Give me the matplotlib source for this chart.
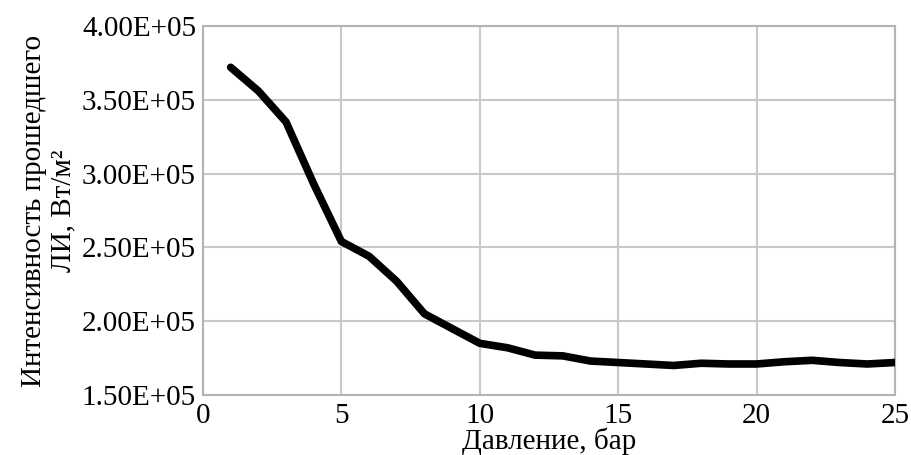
import numpy as np
import matplotlib
matplotlib.use("Agg")
import matplotlib.pyplot as plt

# Data
pressure = [1, 2, 3, 4, 5, 6, 7, 8, 9, 10, 11, 12, 13,
            14, 15, 16, 17, 18, 19, 20, 21, 22, 23, 24, 25]
intensity = [3.72e5, 3.56e5, 3.35e5, 2.93e5, 2.54e5, 2.44e5, 2.27e5, 2.05e5,
             1.95e5, 1.85e5, 1.82e5, 1.77e5, 1.765e5, 1.73e5, 1.72e5, 1.71e5,
             1.70e5, 1.715e5, 1.71e5, 1.71e5, 1.725e5, 1.735e5, 1.72e5,
             1.71e5, 1.72e5]

x_ticks = [0, 5, 10, 15, 20, 25]
y_ticks = [1.5e5, 2.0e5, 2.5e5, 3.0e5, 3.5e5, 4.0e5]

plt.rcParams['font.family'] = ['Liberation Serif', 'DejaVu Serif']

fig = plt.figure(figsize=(9.11, 4.55), dpi=100)
ax = fig.add_axes([0.2228, 0.1319, 0.7596, 0.811])

ax.plot(pressure, intensity, color="black", linewidth=5.5,
        solid_capstyle="round", solid_joinstyle="round", zorder=3)

ax.set_xlim(0, 25)
ax.set_ylim(1.5e5, 4.0e5)
ax.set_xticks(x_ticks)
ax.set_yticks(y_ticks)
ax.set_yticklabels(["%.2fE+05" % (v / 1e5) for v in y_ticks])

ax.grid(True, color="#c8c8c8", linewidth=1.5)
for s in ax.spines.values():
    s.set_color("#b4b4b4")
    s.set_linewidth(1.5)
ax.tick_params(length=0, labelsize=21, pad=5)
ax.tick_params(axis="x", pad=6)

ax.set_xlabel("Давление, бар", fontsize=21, labelpad=-1)
ax.set_ylabel("Интенсивность прошедшего\nЛИ, Вт/м²", fontsize=21,
              labelpad=4, linespacing=1.15)

fig.savefig("out.png", dpi=100)
